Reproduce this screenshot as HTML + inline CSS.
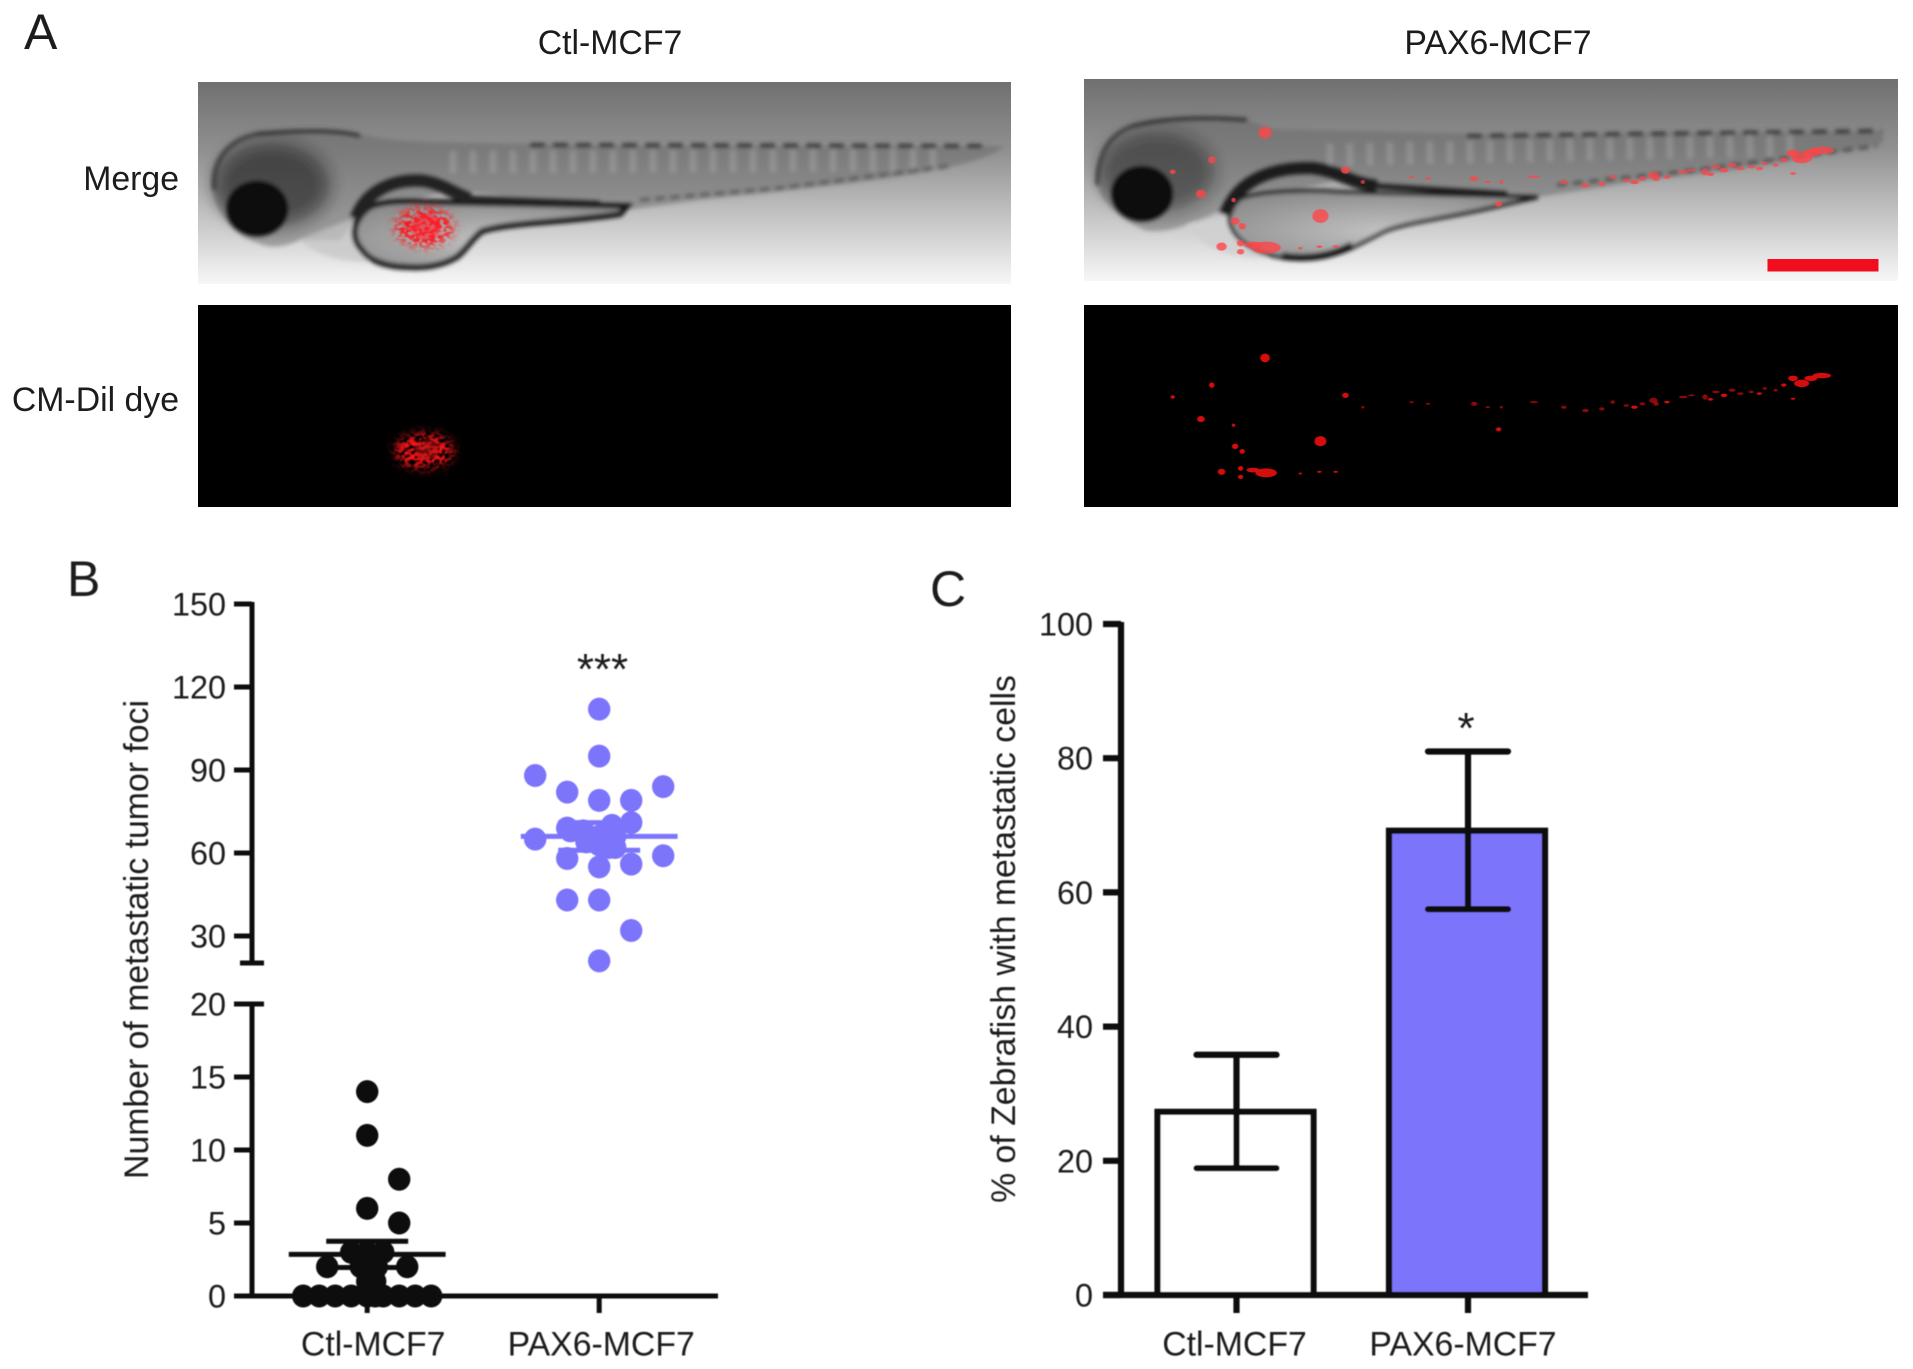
<!DOCTYPE html>
<html lang="en">
<head>
<meta charset="utf-8">
<title>Zebrafish metastasis figure</title>
<style>
html,body{margin:0;padding:0;background:#fff}
svg{display:block}
text{font-family:"Liberation Sans",Arial,sans-serif;fill:#1c1c1c}
.lbl{font-size:33.8px}
.tick{font-size:32.4px;text-anchor:end}
.panel{font-size:50px}
</style>
</head>
<body>
<svg id="fig" xmlns="http://www.w3.org/2000/svg" width="1913" height="1369" viewBox="0 0 1913 1369">
<defs>
<linearGradient id="bg1" x1="0" y1="0" x2="0" y2="1">
<stop offset="0" stop-color="#707070"/><stop offset=".35" stop-color="#919191"/><stop offset=".62" stop-color="#bcbcbc"/><stop offset="1" stop-color="#f7f7f7"/>
</linearGradient>
<radialGradient id="yolkfill" cx=".5" cy=".6" r=".6">
<stop offset="0" stop-color="#c2c2c2"/><stop offset="1" stop-color="#8e8e8e"/>
</radialGradient>
<filter id="tiny" x="-2%" y="-2%" width="104%" height="104%"><feGaussianBlur stdDeviation="0.55"/></filter>
<filter id="soft" x="-5%" y="-5%" width="110%" height="110%"><feGaussianBlur stdDeviation="2.2"/></filter>
<filter id="softer" x="-30%" y="-30%" width="160%" height="160%"><feGaussianBlur stdDeviation="8"/></filter>
<filter id="glow" x="-60%" y="-60%" width="220%" height="220%"><feGaussianBlur stdDeviation="1"/></filter>
<filter id="speck" x="-25%" y="-25%" width="150%" height="150%" color-interpolation-filters="sRGB">
<feGaussianBlur in="SourceAlpha" stdDeviation="5" result="a"/>
<feTurbulence type="fractalNoise" baseFrequency="0.2 0.28" numOctaves="2" seed="7"/>
<feColorMatrix values="0 0 0 0 1  0 0 0 0 .08  0 0 0 0 .1  7 0 0 0 -2.9"/>
<feComposite in2="a" operator="in"/>
<feGaussianBlur stdDeviation=".7"/>
</filter>
<clipPath id="clip1"><rect x="198" y="82" width="813" height="202"/></clipPath>
<clipPath id="clip2"><rect x="1084" y="79" width="814" height="202"/></clipPath>
</defs>

<rect width="1913" height="1369" fill="#fff"/>

<g>
<text class="panel" x="24" y="49">A</text>
<text class="lbl" x="610" y="54" text-anchor="middle">Ctl-MCF7</text>
<text class="lbl" x="1498" y="54" text-anchor="middle">PAX6-MCF7</text>
<text class="lbl" x="179" y="190" text-anchor="end">Merge</text>
<text class="lbl" x="179" y="411" text-anchor="end">CM-Dil dye</text>

<g clip-path="url(#clip1)">
<rect x="198" y="82" width="813" height="202" fill="url(#bg1)"/>
<g filter="url(#soft)">
<path d="M210,177 C214,150 232,134 262,133 C300,130 340,128 360,134 C385,140 410,141 440,142 L660,146 L1003,146 C1000,152 980,160 950,167 C880,182 792,190 700,200 L627,210 L450,190 L356,218 L340,240 L300,240 C285,247 270,249 258,243 C230,235 210,205 210,177 Z" fill="#656565" fill-opacity=".5"/>
<path d="M255,134 C300,130 340,130 360,136" fill="none" stroke="#333" stroke-width="4"/>
<path d="M214,190 C212,160 230,138 258,134" fill="none" stroke="#444" stroke-width="4"/>
<ellipse cx="272" cy="185" rx="58" ry="42" fill="#222" fill-opacity=".6" filter="url(#softer)"/>
<path d="M450,162 L950,160" stroke="#c4c4c4" stroke-opacity=".28" stroke-width="22" stroke-dasharray="6 14"/>
<ellipse cx="257" cy="209" rx="31" ry="28" fill="#0a0a0a"/>
<path d="M530,145 L985,146" stroke="#2c2c2c" stroke-width="3.5" stroke-dasharray="15 8" fill="none"/>
<path d="M640,200 L780,188 L950,166" stroke="#555" stroke-width="3" stroke-dasharray="10 5" fill="none"/>
<path d="M300,240 C315,255 340,262 370,262 L350,220 Z" fill="#c6c6c6" fill-opacity=".7"/>
<path d="M370,207 C385,201 405,201 422,202 L627,206 L620,214 C570,222 510,222 482,231 C470,240 465,252 455,258 C440,266 425,268 409,267 C390,267 370,262 362,250 C352,240 350,222 370,207 Z" fill="url(#yolkfill)" stroke="#161616" stroke-width="6"/>
<path d="M356,218 C366,190 395,178 425,181 C445,185 455,194 470,199" fill="none" stroke="#222" stroke-width="13"/>
<path d="M470,199 L600,204" fill="none" stroke="#222" stroke-width="7"/>
</g>
<ellipse cx="424" cy="227" rx="30" ry="20" fill="#f22" filter="url(#speck)"/>
<ellipse cx="426" cy="227" rx="15" ry="14" fill="#ff2030" fill-opacity=".55" filter="url(#glow)"/>
</g>

<g>
<rect x="198" y="305" width="813" height="202" fill="#000"/>
<ellipse cx="424" cy="451" rx="30" ry="18" fill="#f22" filter="url(#speck)"/>
<ellipse cx="427" cy="450" rx="12" ry="10" fill="#b00c14" fill-opacity=".55" filter="url(#glow)"/>
</g>

<g clip-path="url(#clip2)">
<rect x="1084" y="79" width="814" height="202" fill="url(#bg1)"/>
<g filter="url(#soft)" transform="translate(-3,0)">
<path d="M1098,173 C1102,145 1115,130 1131,126 C1150,118 1200,117 1246,119 C1260,122 1270,128 1279,129 L1500,134 L1886,131 L1886,143 C1860,150 1820,155 1793,160 C1720,175 1650,178 1607,187 L1541,197 L1340,180 L1240,205 L1224,218 L1195,222 C1180,230 1160,233 1147,230 C1115,215 1098,195 1098,173 Z" fill="#656565" fill-opacity=".5"/>
<path d="M1135,126 C1170,117 1215,117 1250,120" fill="none" stroke="#333" stroke-width="4"/>
<path d="M1100,185 C1100,155 1112,135 1135,126" fill="none" stroke="#444" stroke-width="4"/>
<ellipse cx="1160" cy="172" rx="58" ry="40" fill="#222" fill-opacity=".5" filter="url(#softer)"/>
<path d="M1330,155 L1800,145" stroke="#c4c4c4" stroke-opacity=".28" stroke-width="22" stroke-dasharray="6 14"/>
<ellipse cx="1145" cy="194" rx="31" ry="28" fill="#111"/>
<path d="M1470,136 L1885,131" stroke="#2c2c2c" stroke-width="3.5" stroke-dasharray="15 8" fill="none"/>
<path d="M1560,185 L1700,170 L1880,146" stroke="#444" stroke-width="3" stroke-dasharray="10 6" fill="none"/>
<path d="M1190,226 C1205,245 1225,258 1270,258 L1240,205 Z" fill="#d0d0d0" fill-opacity=".85"/>
<path d="M1245,198 C1270,190 1320,190 1340,192 L1541,197 L1497,207 C1450,218 1410,222 1388,231 C1370,240 1350,252 1333,255 C1315,258 1300,259 1290,258 C1260,255 1235,240 1232,220 C1232,210 1238,202 1245,198 Z" fill="url(#yolkfill)" stroke="#1a1a1a" stroke-width="4"/>
<path d="M1285,256 C1310,260 1335,256 1355,245" fill="none" stroke="#111" stroke-width="7"/>
<path d="M1228,215 C1240,180 1275,167 1315,168 C1345,172 1350,182 1380,186" fill="none" stroke="#1c1c1c" stroke-width="13"/>
<path d="M1380,186 L1510,194" fill="none" stroke="#1c1c1c" stroke-width="6"/>
</g>
<g id="spots-merge" transform="translate(1058.6,-227.7) scale(.5432,.34)"></g>
<rect x="1767.5" y="259" width="111" height="12.5" fill="#f20d1e"/>
</g>

<g>
<rect x="1084" y="305" width="814" height="202" fill="#000"/>
<g id="spots-dye" transform="translate(1058.6,-2.5) scale(.5432,.34)"></g>
</g>
</g>

<g id="chartB" filter="url(#tiny)">
<text class="panel" x="67" y="596">B</text>
<text class="lbl" text-anchor="middle" transform="translate(148,939.5) rotate(-90)">Number of metastatic tumor foci</text>
</g>
<g id="chartC" filter="url(#tiny)">
<text class="panel" x="930" y="606">C</text>
<text class="lbl" text-anchor="middle" transform="translate(1015,939) rotate(-90)">% of Zebrafish with metastatic cells</text>
</g>
</svg>

<script>
// Panel B data
const bCategories = ['Ctl-MCF7', 'PAX6-MCF7'];
const bTicksUpper = [30, 60, 90, 120, 150];
const bTicksLower = [0, 5, 10, 15, 20];
const ctlValues = [14, 11, 8, 6, 5, 3, 3, 3, 2, 2, 2, 2, 1, 1, 0, 0, 0, 0, 0, 0, 0, 0, 0, 0];
const ctlOffsets = [0, 0, 1, 0, 1, -0.5, 0, 0.5, -1.25, 1.25, -0.2, 0.3, 0, 0.25, -2, -1.5, -1, -0.5, 0, 0.5, 1, 1.5, 2, 0.25];
const paxValues = [112, 95, 88, 84, 82, 79, 79, 71, 69, 68, 66, 65, 63, 62, 59, 58, 55, 56, 43, 43, 32, 21, 68, 66, 70, 64, 62, 68];
const paxOffsets = [0, 0, -2, 2, -1, 0, 1, 1, -1, 0.5, 0, -2, 0, 0.5, 2, -1, 0, 1, -1, 0, 1, 0, -0.5, 0.5, 0.4, -0.4, 0.3, -0.9];
const ctlMean = 2.85, ctlSem = 0.9;
const paxMean = 66, paxSem = 5;

// Panel C data
const cCategories = ['Ctl-MCF7', 'PAX6-MCF7'];
const cTicks = [0, 20, 40, 60, 80, 100];
const cValues = [27.3, 69.2];
const cErrLow = [18.9, 57.5];
const cErrHigh = [35.8, 81];

// Micrograph bright cells
const cellSpots = [
  [380,1060,9,13],[282,1140,5,8],[210,1175,4,5],[262,1240,7,9],[528,1170,6,8],[482,1305,11,15],
  [325,1320,6,8],[338,1335,5,7],[322,1258,3,5],[300,1395,7,9],[335,1385,5,7],[335,1410,5,6],
  [358,1390,12,7],[382,1398,20,13],[810,1270,5,6],[560,1205,3,4],[650,1190,4,3],[680,1195,4,3],
  [765,1195,6,6],[790,1205,4,3],[815,1205,3,4],[875,1190,8,3],[930,1205,5,5],[970,1215,6,5],
  [1000,1210,5,5],[1020,1190,4,5],[1045,1200,5,4],[1075,1195,5,5],[1095,1185,8,8],[1100,1195,5,6],
  [1150,1175,8,4],[1165,1170,6,3],[1190,1175,5,8],[1210,1160,7,4],[1240,1155,6,5],[1255,1165,6,4],
  [1275,1160,5,4],[1300,1150,4,4],[1320,1155,4,4],[1352,1120,9,8],[1368,1135,14,11],[1385,1120,12,8],
  [1405,1112,17,8],[1352,1180,4,3],[445,1400,3,3],[480,1395,4,3],[510,1395,4,3],
  [1060,1205,6,5],[1120,1190,5,4],[1225,1170,6,5],[1290,1165,5,4],[1335,1140,5,5],[1200,1182,5,4]
];

const NS = 'http://www.w3.org/2000/svg';
function mk(parent, tag, attrs, txt) {
  const el = document.createElementNS(NS, tag);
  for (const k in attrs) el.setAttribute(k, attrs[k]);
  if (txt !== undefined) el.textContent = txt;
  parent.appendChild(el);
  return el;
}

// micrograph cells (faint along the trunk chain, bright elsewhere)
function drawCells(id, color, opacity, chainOpacity, grow) {
  const g = document.getElementById(id);
  cellSpots.forEach(function (s, i) {
    const inChain = i >= 15 && i <= 38;
    const c = mk(g, 'ellipse', {cx: s[0], cy: s[1], rx: s[2] * grow, ry: s[3] * grow, fill: color, 'fill-opacity': inChain ? chainOpacity : opacity, filter: 'url(#glow)'});
    
    
  });
}
drawCells('spots-dye', '#e20c10', 0.95, 0.6, 1);
drawCells('spots-merge', '#ff4448', 0.8, 0.7, 1.35);

// ---------- Panel B ----------
const B = document.getElementById('chartB');
const bLeft = 252, bBase = 1296, bTickLeft = 234, bAxisEnd = 718, bCat0 = 367.2, bCatStep = 232, bDotStep = 32;
function yB(v) {
  return v <= 20 ? bBase - v * 14.6 : 936 - (v - 30) * (332 / 120);
}
function xB(cat, off) {
  return bCat0 + cat * bCatStep + off * bDotStep;
}
const bLine = {stroke: '#0b0b0b', 'stroke-width': 5, fill: 'none'};
let l;
l = mk(B, 'line', Object.assign({x1: bLeft, x2: bLeft, y1: yB(150) - 2, y2: 963}, bLine));


l = mk(B, 'line', Object.assign({x1: 240, x2: 264, y1: 963, y2: 963}, bLine));


l = mk(B, 'line', Object.assign({x1: bLeft, x2: bLeft, y1: yB(20), y2: bBase}, bLine));


l = mk(B, 'line', Object.assign({x1: bTickLeft, x2: bAxisEnd, y1: bBase, y2: bBase}, bLine));


bTicksUpper.concat(bTicksLower).forEach(function (v) {
  const t = mk(B, 'line', Object.assign({x1: bTickLeft, x2: v === 20 ? 264 : bLeft, y1: yB(v), y2: yB(v)}, bLine));
  
  
  const lb = mk(B, 'text', {class: 'tick', x: 226, y: yB(v) + 11.5}, String(v));
  
  
});
bCategories.forEach(function (c, i) {
  const t = mk(B, 'line', Object.assign({x1: xB(i, 0), x2: xB(i, 0), y1: bBase, y2: 1313}, bLine));
  
  
  const lb = mk(B, 'text', {class: 'lbl', x: xB(i, 0) + (i ? 2 : 6), y: 1355.5, 'text-anchor': 'middle'}, c);
  
  
});
function drawGroup(cat, vals, offs, color, mean, sem) {
  vals.forEach(function (v, i) {
    const d = mk(B, 'ellipse', {cx: xB(cat, offs[i]), cy: yB(v), rx: 11.2, ry: 11.5, fill: color});
    
    
  });
  const st = {stroke: color, 'stroke-width': 5};
  const m = mk(B, 'line', Object.assign({x1: xB(cat, -2.45), x2: xB(cat, 2.45), y1: yB(mean), y2: yB(mean)}, st));
  
  
  [mean + sem, mean - sem].forEach(function (v) {
    const e = mk(B, 'line', Object.assign({x1: xB(cat, -1.28), x2: xB(cat, 1.28), y1: yB(v), y2: yB(v)}, st));
    
    
  });
  const s = mk(B, 'line', Object.assign({x1: xB(cat, 0), x2: xB(cat, 0), y1: yB(mean + sem), y2: yB(mean - sem)}, st));
  
  
}
drawGroup(0, ctlValues, ctlOffsets, '#0a0a0a', ctlMean, ctlSem);
drawGroup(1, paxValues, paxOffsets, '#7b74fb', paxMean, paxSem);
const s3 = mk(B, 'text', {x: 602.5, y: 684, 'text-anchor': 'middle', 'font-size': 44}, '***');



// ---------- Panel C ----------
const C = document.getElementById('chartC');
const cLeft = 1121, cBase = 1295, cTickLeft = 1103, cAxisEnd = 1588, cCat0 = 1236.5, cCatStep = 231.5, cBarW = 156, cCapW = 80;
function yC(v) { return cBase - v * 6.71; }
function xC(i) { return cCat0 + i * cCatStep; }
const cFills = ['#ffffff', '#7b74fb'];
const cLine = {stroke: '#0b0b0b', 'stroke-width': 6.2, fill: 'none'};
cValues.forEach(function (v, i) {
  const r = mk(C, 'path', Object.assign({}, cLine, {fill: cFills[i], d: 'M' + (xC(i) - cBarW / 2 - 1) + ',' + cBase + 'V' + yC(v) + 'H' + (xC(i) + cBarW / 2 - 1) + 'V' + cBase}));
  
  
  const st = mk(C, 'line', Object.assign({x1: xC(i), x2: xC(i), y1: yC(cErrHigh[i]), y2: yC(cErrLow[i])}, cLine));
  
  
  [cErrHigh[i], cErrLow[i]].forEach(function (e) {
    const cap = mk(C, 'line', Object.assign({x1: xC(i) - cCapW / 2, x2: xC(i) + cCapW / 2, y1: yC(e), y2: yC(e), 'stroke-linecap': 'round'}, cLine));
    
    
  });
  const t = mk(C, 'line', Object.assign({x1: xC(i), x2: xC(i), y1: cBase, y2: 1313}, cLine));
  
  
  const lb = mk(C, 'text', {class: 'lbl', x: xC(i) - 2 - i * 3, y: 1355.5, 'text-anchor': 'middle'}, cCategories[i]);
  
  
});
l = mk(C, 'line', Object.assign({x1: cLeft, x2: cLeft, y1: yC(100) - 2, y2: cBase}, cLine));


l = mk(C, 'line', Object.assign({x1: cTickLeft, x2: cAxisEnd, y1: cBase, y2: cBase}, cLine));


cTicks.forEach(function (v) {
  const t = mk(C, 'line', Object.assign({x1: cTickLeft, x2: cLeft, y1: yC(v), y2: yC(v)}, cLine));
  
  
  const lb = mk(C, 'text', {class: 'tick', x: 1093, y: yC(v) + 11.5}, String(v));
  
  
});
const s1 = mk(C, 'text', {x: xC(1) - 2, y: 743, 'text-anchor': 'middle', 'font-size': 44}, '*');


</script>
</body>
</html>
